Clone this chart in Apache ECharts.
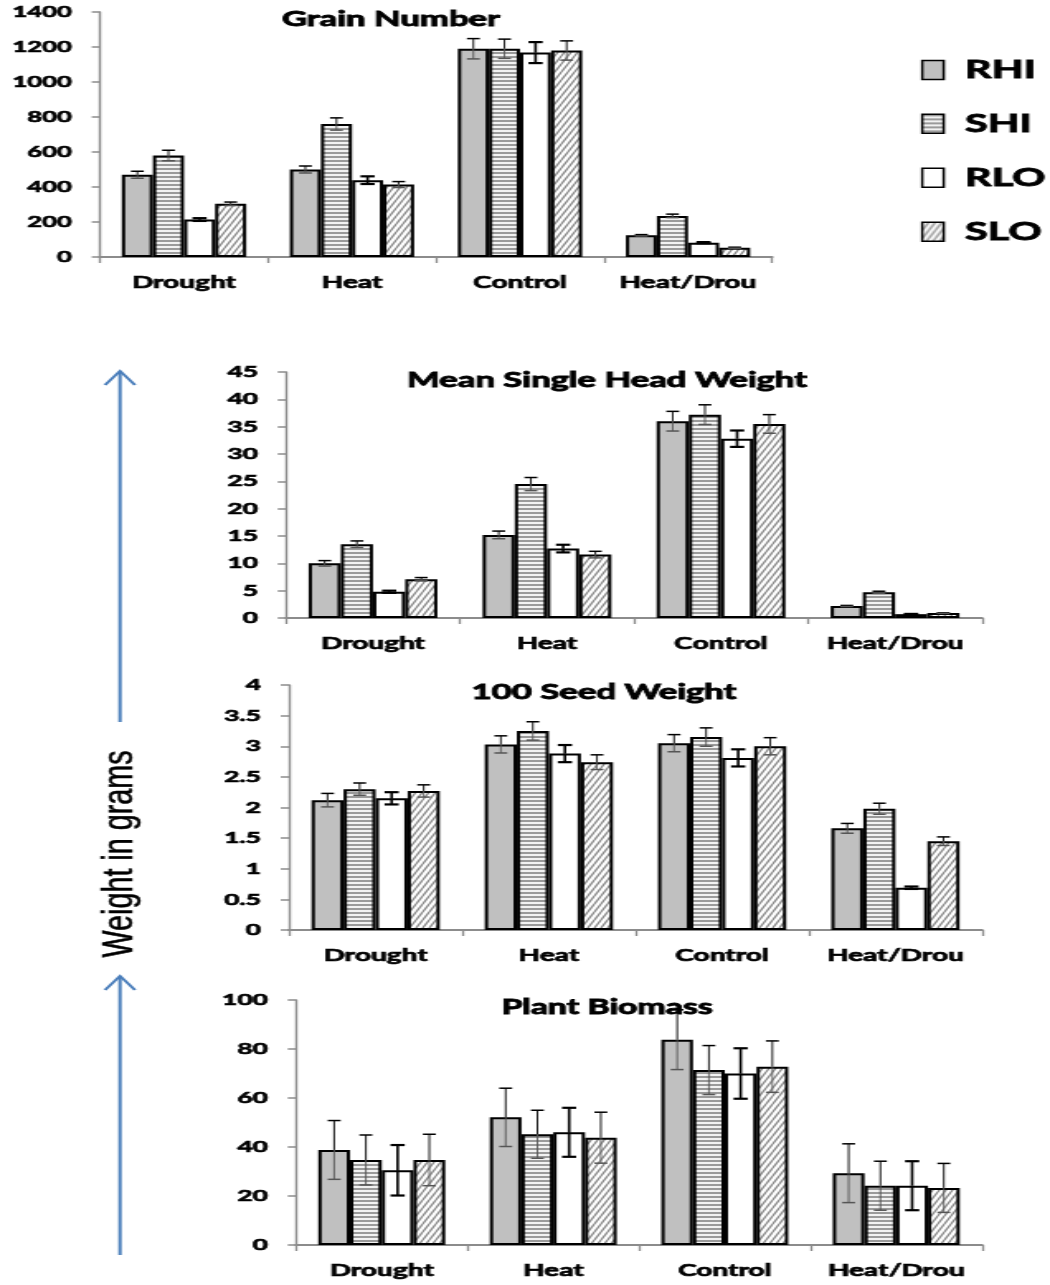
<!DOCTYPE html>
<html>
<head>
<meta charset="utf-8">
<script src="https://cdn.jsdelivr.net/npm/echarts@6/dist/echarts.min.js"></script>
<style>
html,body{margin:0;padding:0;background:#fff;overflow:hidden;}
#wrap{width:636px;height:1285px;transform:scaleX(1.650943);transform-origin:0 0;}
#chart{width:636px;height:1285px;}
</style>
</head>
<body>
<div id="wrap"><div id="chart"></div></div>
<script>
// ---------------- DATA ----------------
const categories = ['Drought', 'Heat', 'Control', 'Heat/Drou'];
const seriesNames = ['RHI', 'SHI', 'RLO', 'SLO'];

// rows: RHI, SHI, RLO, SLO ; columns follow categories
const grainMean = [
  [470, 500, 1190, 124],
  [580, 760, 1190, 235],
  [214, 439, 1168, 82],
  [304, 414, 1180, 53]
];
const grainErr = [
  [20, 20, 58, 4],
  [30, 35, 55, 10],
  [8, 22, 60, 3],
  [10, 17, 55, 3]
];

const headMean = [
  [10, 15.2, 36, 2.2],
  [13.5, 24.5, 37.2, 4.7],
  [4.8, 12.7, 32.8, 0.7],
  [7.1, 11.6, 35.5, 0.9]
];
const headErr = [
  [0.5, 0.7, 1.8, 0.1],
  [0.6, 1.2, 1.8, 0.2],
  [0.2, 0.7, 1.5, 0.05],
  [0.3, 0.6, 1.7, 0.05]
];

const seedMean = [
  [2.12, 3.03, 3.05, 1.66],
  [2.30, 3.25, 3.15, 1.98],
  [2.15, 2.88, 2.81, 0.69],
  [2.27, 2.74, 3.00, 1.45]
];
const seedErr = [
  [0.11, 0.14, 0.14, 0.08],
  [0.10, 0.15, 0.15, 0.09],
  [0.10, 0.14, 0.14, 0.02],
  [0.10, 0.12, 0.14, 0.07]
];

const biomassMean = [
  [38.8, 52.1, 83.8, 29.3],
  [34.7, 45.2, 71.4, 24.2],
  [30.5, 46.0, 70.0, 24.2],
  [34.7, 43.8, 72.8, 23.3]
];
const biomassErr = [
  [12, 11.9, 12.2, 12],
  [10.2, 9.8, 10, 10],
  [10.3, 10, 10.3, 10],
  [10.5, 10.4, 10.5, 10]
];

const panelTitles = ['Grain Number', 'Mean Single Head Weight', '100 Seed Weight', 'Plant Biomass'];
const yMax = [1400, 45, 4, 100];
const yStep = [200, 5, 0.5, 20];
const sideLabel = 'Weight in grams';

// ---------------- STYLE / LAYOUT ----------------
const S = 1050 / 636;               // horizontal stretch applied by CSS
const rx = v => v / S;              // reference-pixel x -> chart x
const GAP = 0.26;

function stripePattern() {
  const c = document.createElement('canvas');
  c.width = 4; c.height = 4;
  const g = c.getContext('2d');
  g.fillStyle = '#f2f2f2'; g.fillRect(0, 0, 4, 4);
  g.fillStyle = '#9a9a9a'; g.fillRect(0, 0, 4, 2);
  return { image: c, repeat: 'repeat' };
}
function hatchPattern() {
  const c = document.createElement('canvas');
  c.width = 4; c.height = 8;
  const g = c.getContext('2d');
  g.fillStyle = '#ffffff'; g.fillRect(0, 0, 4, 8);
  g.strokeStyle = '#8a8a8a'; g.lineWidth = 1.3;
  g.beginPath();
  g.moveTo(-4, 8); g.lineTo(0, 0);
  g.moveTo(0, 8); g.lineTo(4, 0);
  g.moveTo(4, 8); g.lineTo(8, 0);
  g.stroke();
  return { image: c, repeat: 'repeat' };
}
const fills = ['#c0c0c0', stripePattern(), '#ffffff', hatchPattern()];

const panels = [
  { mean: grainMean, err: grainErr, left: 100, right: 772, top: 12, height: 245, ylab: 15.5, tx: 391, ty: 19.5, tf: 21 },
  { mean: headMean, err: headErr, left: 286, right: 982, top: 372, height: 246, ylab: 16, tx: 607, ty: 380, tf: 21 },
  { mean: seedMean, err: seedErr, left: 289, right: 982, top: 685, height: 245, ylab: 16, tx: 604, ty: 692.5, tf: 21 },
  { mean: biomassMean, err: biomassErr, left: 296, right: 982, top: 1000, height: 245, ylab: 16, tx: 607, ty: 1007.5, tf: 20.5 }
];

const FONT = 'Lato';
const heavy = { fontFamily: FONT, fontWeight: 'bold', color: '#000', textBorderColor: '#000', textBorderWidth: 0.7 };
const grids = [], xAxes = [], yAxes = [], series = [], graphics = [];

panels.forEach((p, pi) => {
  grids.push({ left: rx(p.left), top: p.top, width: rx(p.right - p.left), height: p.height });
  xAxes.push({
    type: 'category', gridIndex: pi, data: categories,
    axisLine: { lineStyle: { color: '#8c8c8c', width: 2 } },
    axisTick: { show: true, interval: 0, length: 6, lineStyle: { color: '#8c8c8c', width: 1.3 } },
    axisLabel: Object.assign({ interval: 0, margin: 17, fontSize: 17 }, heavy),
    splitLine: { show: false }
  });
  yAxes.push({
    type: 'value', gridIndex: pi, min: 0, max: yMax[pi], interval: yStep[pi],
    axisLine: { show: true, lineStyle: { color: '#8c8c8c', width: 1.4 } },
    axisTick: { show: true, length: 5, lineStyle: { color: '#8c8c8c', width: 1.5 } },
    axisLabel: Object.assign({ margin: 17, fontSize: p.ylab, formatter: v => String(v) }, heavy),
    splitLine: { show: false }
  });
  seriesNames.forEach((name, si) => {
    series.push({
      type: 'bar', name: name, xAxisIndex: pi, yAxisIndex: pi,
      data: p.mean[si], barGap: '0%', barCategoryGap: (GAP * 100) + '%',
      itemStyle: { color: fills[si], borderColor: '#000', borderWidth: 2 },
      silent: true, z: 2
    });
  });
  const ebData = [];
  seriesNames.forEach((name, si) => {
    categories.forEach((c, ci) => ebData.push([ci, p.mean[si][ci], p.err[si][ci], si]));
  });
  series.push({
    type: 'custom', xAxisIndex: pi, yAxisIndex: pi, z: 5, silent: true,
    encode: { x: 0, y: 1 },
    data: ebData,
    renderItem: function (params, api) {
      const ci = api.value(0), v = api.value(1), e = api.value(2), si = api.value(3);
      const band = api.size([1, 0])[0];
      const total = band * (1 - GAP);
      const bw = total / 4;
      const c = api.coord([ci, v]);
      const x = c[0] - total / 2 + bw * (si + 0.5);
      const yT = api.coord([ci, v + e])[1];
      const yB = api.coord([ci, Math.max(0, v - e)])[1];
      const y = c[1];
      const bold = si === 2;
      const vw = bold ? 1.6 : 0.9, cw = bold ? 2.2 : 1.5, hw = bold ? 4.3 : 3.9;
      const lowCol = bold ? '#000' : '#555';
      return {
        type: 'group',
        children: [
          { type: 'line', shape: { x1: x, y1: yT, x2: x, y2: y }, style: { stroke: '#000', lineWidth: vw } },
          { type: 'line', shape: { x1: x, y1: y, x2: x, y2: yB }, style: { stroke: lowCol, lineWidth: vw } },
          { type: 'line', shape: { x1: x - hw, y1: yT, x2: x + hw, y2: yT }, style: { stroke: '#000', lineWidth: cw } },
          { type: 'line', shape: { x1: x - hw, y1: yB, x2: x + hw, y2: yB }, style: { stroke: lowCol, lineWidth: cw } }
        ]
      };
    }
  });
  graphics.push({
    type: 'text', x: rx(p.tx), y: p.ty, z: 10,
    style: { text: panelTitles[pi], font: 'bold ' + p.tf + 'px ' + FONT, fill: '#000', stroke: '#000', lineWidth: 0.9,
      align: 'center', verticalAlign: 'middle' }
  });
});

// side arrows and label
const ax = rx(120), head = rx(15), blue = '#4a7ebb';
[[371, 722], [976, 1255]].forEach(([t, b]) => {
  graphics.push({ type: 'line', shape: { x1: ax, y1: t + 1, x2: ax, y2: b }, style: { stroke: blue, lineWidth: 2 } });
  graphics.push({ type: 'polyline', shape: { points: [[ax - head, t + 14], [ax, t], [ax + head, t + 14]] }, style: { stroke: blue, lineWidth: 2, fill: null } });
});
graphics.push({
  type: 'text', x: rx(120), y: 854, rotation: Math.PI / 2, scaleX: 1.15,
  style: { text: sideLabel, font: '25px "Liberation Sans"', fill: '#000', stroke: '#000', lineWidth: 0.4,
    align: 'center', verticalAlign: 'middle' }
});

const legendData = seriesNames.map((n, si) => ({
  name: n, icon: 'rect',
  itemStyle: { color: fills[si], borderColor: '#000', borderWidth: 1.5 }
}));

const chart = echarts.init(document.getElementById('chart'), null, { renderer: 'canvas' });
chart.setOption({
  animation: false,
  backgroundColor: '#fff',
  grid: grids, xAxis: xAxes, yAxis: yAxes, series: series,
  legend: {
    data: legendData, orient: 'vertical', left: rx(921), top: 57, padding: 0,
    itemWidth: 13, itemHeight: 19, itemGap: 28, selectedMode: false,
    textStyle: Object.assign({ fontSize: 25, lineHeight: 25, padding: [0, 0, 0, 8] }, heavy, { textBorderWidth: 0.9 })
  },
  graphic: graphics
});
</script>
</body>
</html>
